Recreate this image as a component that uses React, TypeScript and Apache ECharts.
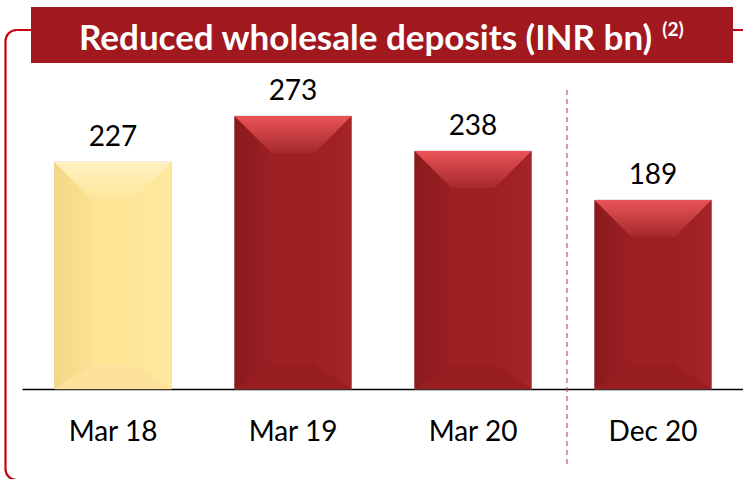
import React, { useEffect, useRef } from "react";
import * as echarts from "echarts";

const categories = ["Mar 18", "Mar 19", "Mar 20", "Dec 20"];
const values = [227, 273, 238, 189];
const highlighted = [true, false, false, false];
const titleText = "Reduced wholesale deposits (INR bn)";
const titleNote = "(2)";

const RED = {
  center: "#9d1f23",
  topA: "#e95457",
  topB: "#a5292c",
  leftA: "#8a1a1d",
  leftB: "#9b1f23",
  rightA: "#a42428",
  rightB: "#9e2024",
  bottom: "#971d21",
  edge: "#caa2a2",
};
const YEL = {
  center: "#fde595",
  topA: "#fff2c0",
  topB: "#fde59b",
  leftA: "#f2d788",
  leftB: "#fbe293",
  rightA: "#fee99f",
  rightB: "#fde697",
  bottom: "#fce29a",
  edge: "#d8c89a",
};

export default function App() {
  const ref = useRef<HTMLDivElement>(null);
  useEffect(() => {
    document.body.style.margin = "0";
    const chart = echarts.init(ref.current!, null, { renderer: "svg" });
    const font = "Lato, 'Open Sans', sans-serif";
    const renderItem = (params: any, api: any) => {
      const idx = api.value(0);
      const v = api.value(1);
      const top = api.coord([idx, v]);
      const base = api.coord([idx, 0]);
      const band = api.size([1, 0])[0];
      const w = band * 0.65;
      const x0 = top[0] - w / 2;
      const x1 = top[0] + w / 2;
      const y0 = top[1];
      const y1 = base[1];
      const h = y1 - y0;
      const d = Math.min(37, w / 2 - 2, h / 2);
      const db = Math.min(24, h / 3);
      const c = highlighted[params.dataIndex] ? YEL : RED;
      const lin = (x: number, y: number, x2: number, y2: number, a: string, b: string) =>
        new echarts.graphic.LinearGradient(x, y, x2, y2, [
          { offset: 0, color: a },
          { offset: 1, color: b },
        ]);
      return {
        type: "group",
        children: [
          {
            type: "rect",
            shape: { x: x0, y: y0, width: w, height: h },
            style: { fill: c.center, stroke: c.edge, lineWidth: 0.6 },
          },
          {
            type: "polygon",
            shape: { points: [[x0, y0], [x0 + d, y0 + d], [x0 + d, y1 - db], [x0, y1]] },
            style: { fill: lin(0, 0, 1, 0, c.leftA, c.leftB) },
          },
          {
            type: "polygon",
            shape: { points: [[x1, y0], [x1, y1], [x1 - d, y1 - db], [x1 - d, y0 + d]] },
            style: { fill: lin(1, 0, 0, 0, c.rightA, c.rightB) },
          },
          {
            type: "polygon",
            shape: { points: [[x0, y1], [x0 + d, y1 - db], [x1 - d, y1 - db], [x1, y1]] },
            style: { fill: c.bottom },
          },
          {
            type: "polygon",
            shape: { points: [[x0, y0], [x1, y0], [x1 - d, y0 + d], [x0 + d, y0 + d]] },
            style: { fill: lin(0, 0, 0, 1, c.topA, c.topB) },
          },
          {
            type: "text",
            style: {
              text: String(v),
              x: top[0],
              y: y0 - 13,
              align: "center",
              verticalAlign: "bottom",
              fill: "#000",
              font: `28px ${font}`,
            },
          },
        ],
      };
    };
    chart.setOption({
      animation: false,
      grid: { left: 23, right: 0, top: 89, bottom: 90 },
      xAxis: {
        type: "category",
        data: categories,
        axisLine: { lineStyle: { color: "#000", width: 1.3 } },
        axisTick: { show: false },
        axisLabel: { color: "#000", fontSize: 28, fontFamily: font, margin: 27 },
      },
      yAxis: {
        type: "value",
        min: 0,
        max: 300,
        show: false,
      },
      series: [
        {
          type: "custom",
          renderItem,
          data: values.map((v, i) => [i, v]),
          clip: false,
        },
      ],
      graphic: [
        {
          type: "rect",
          z: 1,
          shape: { x: 5.5, y: 30, width: 800, height: 450, r: 11 },
          style: { fill: "none", stroke: "#c8000f", lineWidth: 2.2 },
        },
        {
          type: "line",
          z: 2,
          shape: { x1: 567, y1: 90, x2: 567, y2: 467 },
          style: { stroke: "#b0305a", lineWidth: 1, lineDash: [5, 4] },
        },
        {
          type: "rect",
          z: 10,
          shape: { x: 31, y: 7, width: 702, height: 56 },
          style: { fill: "#a1191f" },
        },
        {
          type: "text",
          z: 11,
          x: 79,
          y: 36,
          style: {
            text: `{a|${titleText}} {b|${titleNote}}`,
            align: "left",
            verticalAlign: "middle",
            rich: {
              a: { fontSize: 35, fontWeight: "bold", fill: "#fff", fontFamily: font },
              b: {
                fontSize: 19,
                fontWeight: "bold",
                fill: "#fff",
                fontFamily: font,
                verticalAlign: "top",
                padding: [0, 0, 16, 6],
              },
            },
          },
        },
      ],
    });
    return () => chart.dispose();
  }, []);
  return <div ref={ref} style={{ width: 743, height: 479 }} />;
}
